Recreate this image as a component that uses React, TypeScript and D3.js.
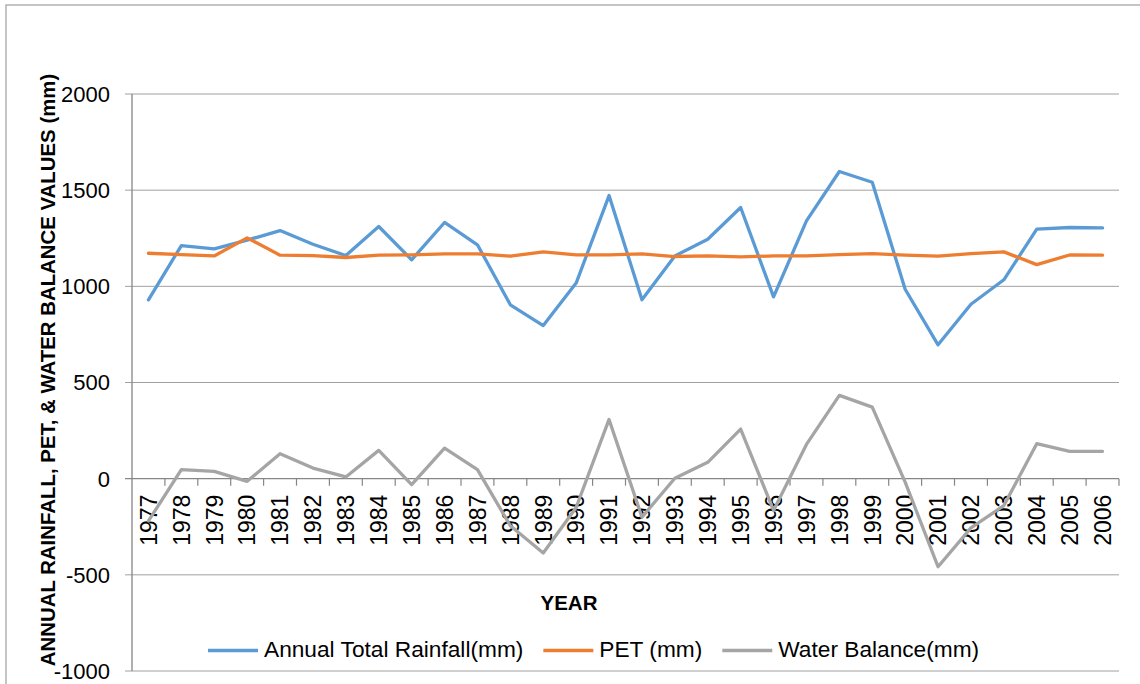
import { useEffect, useRef } from "react"
import * as d3 from "d3"

const years = [
  "1977", "1978", "1979", "1980", "1981", "1982", "1983", "1984", "1985", "1986",
  "1987", "1988", "1989", "1990", "1991", "1992", "1993", "1994", "1995", "1996",
  "1997", "1998", "1999", "2000", "2001", "2002", "2003", "2004", "2005", "2006",
]

const rainfall = [
  930, 1212, 1195, 1240, 1290, 1219, 1160, 1311, 1138, 1332,
  1216, 904, 796, 1017, 1472, 930, 1158, 1245, 1410, 945,
  1340, 1597, 1541, 985, 696, 907, 1034, 1297, 1306, 1304,
]

const pet = [
  1172, 1165, 1158, 1252, 1162, 1160, 1150, 1162, 1164, 1169,
  1169, 1157, 1179, 1164, 1164, 1169, 1155, 1158, 1153, 1158,
  1158, 1165, 1170, 1162, 1157, 1170, 1179, 1113, 1163, 1162,
]

const waterBalance = [
  -220, 47, 38, -14, 130, 55, 9, 147, -31, 159,
  47, -245, -386, -150, 308, -200, 2, 85, 258, -165,
  178, 433, 372, -18, -458, -256, -140, 182, 142, 142,
]

const yTicks = [2000, 1500, 1000, 500, 0, -500, -1000]

const seriesNames = ["Annual Total Rainfall(mm)", "PET (mm)", "Water Balance(mm)"]
const seriesColors = ["#5B9BD5", "#ED7D31", "#A5A5A5"]

const FONT = "Arial, 'Liberation Sans', sans-serif"

export default function App() {
  const svgRef = useRef<SVGSVGElement>(null)

  useEffect(() => {
    if (!svgRef.current) return
    const svg = d3.select(svgRef.current)
    svg.selectAll("*").remove()

    const W = 1140
    const H = 684
    const left = 132
    const right = 1119
    const top = 94
    const bottom = 671

    svg.append("rect").attr("width", W).attr("height", H).attr("fill", "white")

    // outer chart border (runs off the right and bottom of the picture)
    svg
      .append("rect")
      .attr("x", 6)
      .attr("y", 5)
      .attr("width", 1160)
      .attr("height", 720)
      .attr("fill", "none")
      .attr("stroke", "#a6a6a6")
      .attr("stroke-width", 1.3)

    const x = d3.scaleBand<string>().domain(years).range([left, right]).padding(0)
    const y = d3.scaleLinear().domain([-1000, 2000]).range([bottom, top])
    const cx = (yr: string) => (x(yr) || 0) + x.bandwidth() / 2

    // gridlines + y ticks
    const grid = svg.append("g")
    yTicks.forEach((t) => {
      grid
        .append("line")
        .attr("x1", left - 7)
        .attr("x2", right)
        .attr("y1", y(t))
        .attr("y2", y(t))
        .attr("stroke", t === 0 ? "#868686" : "#a0a0a0")
        .attr("stroke-width", t === 0 ? 1.3 : 1)
      grid
        .append("text")
        .attr("x", 110)
        .attr("y", y(t))
        .attr("dy", "0.36em")
        .attr("text-anchor", "end")
        .attr("font-family", FONT)
        .attr("font-size", 22)
        .attr("fill", "#000")
        .text(t)
    })

    // y axis line
    svg
      .append("line")
      .attr("x1", left)
      .attr("x2", left)
      .attr("y1", top)
      .attr("y2", bottom)
      .attr("stroke", "#868686")
      .attr("stroke-width", 1.3)

    // x tick marks on the zero line
    years.forEach((yr) => {
      const bx = (x(yr) || 0) + x.bandwidth()
      svg
        .append("line")
        .attr("x1", bx)
        .attr("x2", bx)
        .attr("y1", y(0))
        .attr("y2", y(0) + 7)
        .attr("stroke", "#868686")
        .attr("stroke-width", 1.2)
    })

    // year labels
    years.forEach((yr) => {
      svg
        .append("text")
        .attr("transform", `translate(${cx(yr)},${y(0) + 16}) rotate(-90)`)
        .attr("dy", "0.36em")
        .attr("text-anchor", "end")
        .attr("font-family", FONT)
        .attr("font-size", 23)
        .attr("fill", "#000")
        .text(yr)
    })

    // lines
    const allSeries = [rainfall, pet, waterBalance]
    allSeries.forEach((vals, si) => {
      const line = d3
        .line<number>()
        .x((_, i) => cx(years[i]))
        .y((d) => y(d))
      svg
        .append("path")
        .datum(vals)
        .attr("fill", "none")
        .attr("stroke", seriesColors[si])
        .attr("stroke-width", 3.3)
        .attr("stroke-linejoin", "round")
        .attr("stroke-linecap", "round")
        .attr("d", line)
    })

    // axis titles
    svg
      .append("text")
      .attr("transform", "translate(55,370) rotate(-90)")
      .attr("text-anchor", "middle")
      .attr("font-family", FONT)
      .attr("font-weight", "bold")
      .attr("font-size", 20.4)
      .attr("fill", "#000")
      .text("ANNUAL RAINFALL, PET, & WATER BALANCE VALUES (mm)")

    svg
      .append("text")
      .attr("x", 569)
      .attr("y", 610)
      .attr("text-anchor", "middle")
      .attr("font-family", FONT)
      .attr("font-weight", "bold")
      .attr("font-size", 20.5)
      .attr("fill", "#000")
      .text("YEAR")

    // legend
    const legend = svg.append("g")
    let lx = 208
    seriesNames.forEach((name, i) => {
      legend
        .append("line")
        .attr("x1", lx)
        .attr("x2", lx + 50)
        .attr("y1", 650.5)
        .attr("y2", 650.5)
        .attr("stroke", seriesColors[i])
        .attr("stroke-width", 3.5)
      const txt = legend
        .append("text")
        .attr("x", lx + 56)
        .attr("y", 657)
        .attr("font-family", FONT)
        .attr("font-size", 22.7)
        .attr("fill", "#000")
        .text(name)
      const w = (txt.node() as SVGTextElement).getComputedTextLength()
      lx = lx + 56 + w + 20
    })
  }, [])

  return (
    <svg
      ref={svgRef}
      width={1140}
      height={684}
      style={{ position: "absolute", left: 0, top: 0, display: "block" }}
    />
  )
}
